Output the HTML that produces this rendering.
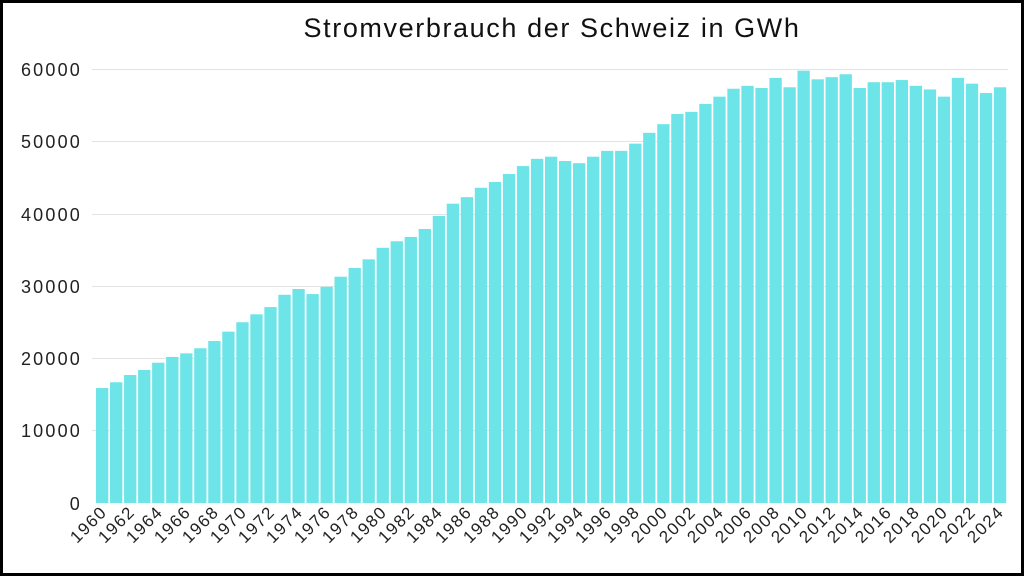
<!DOCTYPE html>
<html><head><meta charset="utf-8"><style>
html,body{margin:0;padding:0;background:#fff}
svg{display:block;font-family:"Liberation Sans","DejaVu Sans",sans-serif}
</style></head><body>
<svg id="s" width="1024" height="576" viewBox="0 0 1024 576" xmlns="http://www.w3.org/2000/svg">
<rect x="1.5" y="1.5" width="1021" height="573" fill="#fff" stroke="#000" stroke-width="3"/>
<text x="552" y="37" font-size="27" letter-spacing="1.6" text-anchor="middle" fill="#111">Stromverbrauch der Schweiz in GWh</text>
<g stroke="#e3e3e3" stroke-width="1">
<line x1="92" x2="1008" y1="69.5" y2="69.5"/><line x1="92" x2="1008" y1="141.5" y2="141.5"/>
<line x1="92" x2="1008" y1="214.5" y2="214.5"/><line x1="92" x2="1008" y1="286.5" y2="286.5"/>
<line x1="92" x2="1008" y1="358.5" y2="358.5"/><line x1="92" x2="1008" y1="430.5" y2="430.5"/>
</g>
<g font-size="18" letter-spacing="2.2" fill="#222" text-anchor="end">
<text x="82" y="76">60000</text><text x="82" y="148">50000</text><text x="82" y="221">40000</text>
<text x="82" y="293">30000</text><text x="82" y="365">20000</text><text x="82" y="437">10000</text>
<text x="82" y="510">0</text>
</g>
<g id="bars" fill="#6de4e7"></g>
<g font-size="17" letter-spacing="1.5" fill="#222" text-anchor="end">
<text transform="translate(108,513) rotate(-45)">1960</text>
<text transform="translate(136,513) rotate(-45)">1962</text>
<text transform="translate(164,513) rotate(-45)">1964</text>
<text transform="translate(192,513) rotate(-45)">1966</text>
<text transform="translate(220,513) rotate(-45)">1968</text>
<text transform="translate(248,513) rotate(-45)">1970</text>
<text transform="translate(276,513) rotate(-45)">1972</text>
<text transform="translate(304,513) rotate(-45)">1974</text>
<text transform="translate(332,513) rotate(-45)">1976</text>
<text transform="translate(360,513) rotate(-45)">1978</text>
<text transform="translate(388,513) rotate(-45)">1980</text>
<text transform="translate(416,513) rotate(-45)">1982</text>
<text transform="translate(444,513) rotate(-45)">1984</text>
<text transform="translate(473,513) rotate(-45)">1986</text>
<text transform="translate(501,513) rotate(-45)">1988</text>
<text transform="translate(529,513) rotate(-45)">1990</text>
<text transform="translate(557,513) rotate(-45)">1992</text>
<text transform="translate(585,513) rotate(-45)">1994</text>
<text transform="translate(613,513) rotate(-45)">1996</text>
<text transform="translate(641,513) rotate(-45)">1998</text>
<text transform="translate(669,513) rotate(-45)">2000</text>
<text transform="translate(697,513) rotate(-45)">2002</text>
<text transform="translate(725,513) rotate(-45)">2004</text>
<text transform="translate(753,513) rotate(-45)">2006</text>
<text transform="translate(781,513) rotate(-45)">2008</text>
<text transform="translate(809,513) rotate(-45)">2010</text>
<text transform="translate(837,513) rotate(-45)">2012</text>
<text transform="translate(865,513) rotate(-45)">2014</text>
<text transform="translate(893,513) rotate(-45)">2016</text>
<text transform="translate(921,513) rotate(-45)">2018</text>
<text transform="translate(949,513) rotate(-45)">2020</text>
<text transform="translate(977,513) rotate(-45)">2022</text>
<text transform="translate(1005,513) rotate(-45)">2024</text>
</g>
</svg>
<script>
var v=[15900,16700,17700,18400,19400,20200,20700,21400,22400,23700,25000,26100,27100,28800,29600,28900,29900,31300,32500,33700,35300,36200,36800,37900,39700,41400,42300,43600,44400,45500,46600,47600,47900,47300,47000,47900,48700,48700,49700,51200,52400,53800,54100,55200,56200,57300,57700,57400,58800,57500,59800,58600,58900,59300,57400,58200,58200,58500,57700,57200,56200,58800,58000,56700,57500];
var g=document.getElementById('bars'),ns='http://www.w3.org/2000/svg';
v.forEach(function(d,i){var r=document.createElementNS(ns,'rect');var h=d/10000*72.3;
r.setAttribute('x',96+i*14.03);r.setAttribute('y',503-h);r.setAttribute('width',12.3);r.setAttribute('height',h);g.appendChild(r);});
</script>
</body></html>
